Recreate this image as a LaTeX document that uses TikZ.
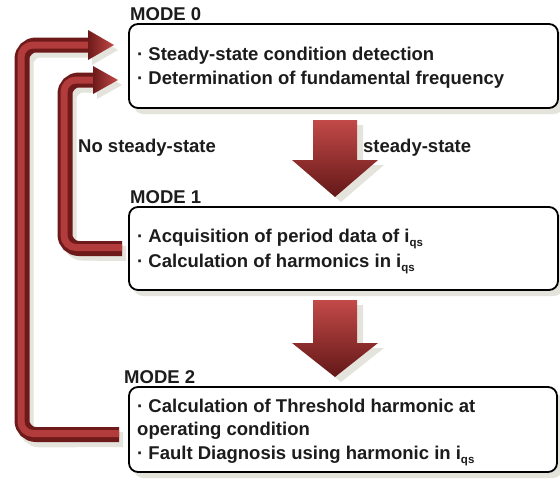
\documentclass[tikz,border=0pt]{standalone}
\usepackage{fontspec}
\setmainfont{Liberation Sans}
\usetikzlibrary{shadows,calc}
\definecolor{darkred}{HTML}{6E1A1A}
\definecolor{midred}{HTML}{B23B3B}
\definecolor{litred}{HTML}{C24A48}
\definecolor{shd}{HTML}{E4E4DC}
\definecolor{ink}{HTML}{1C1C1C}
\newcommand{\bul}{·\ }
\newcommand{\iqs}{i\raisebox{-0.45ex}{\fontsize{11.5}{11.5}\selectfont qs}}
\begin{document}
\begin{tikzpicture}[x=1pt,y=-1pt,
  box/.style={draw=black, line width=1.8pt, rounded corners=9pt, fill=white,
    drop shadow={shadow xshift=5pt, shadow yshift=-6pt, fill=shd, opacity=1}},
  txt/.style={anchor=base west, inner sep=0pt, text=ink,
    font=\bfseries\fontsize{18.5}{21}\selectfont},
  band/.style={line width=15pt, rounded corners=14pt, draw=darkred},
  bandin/.style={line width=7pt, rounded corners=12pt, draw=midred},
  bandshd/.style={line width=15pt, rounded corners=14pt, draw=shd}]
\useasboundingbox (0,0) rectangle (560,479);
\fill[white] (0,0) rectangle (560,479);

% boxes
\node[box, minimum width=429pt, minimum height=84pt] (box0) at (343.5,66) {};
\node[box, minimum width=429pt, minimum height=83pt] (box1) at (343.5,248.5) {};
\node[box, minimum width=428pt, minimum height=85pt] (box2) at (343,429.5) {};

% feedback connectors
\coordinate (e0) at (90,45);
\coordinate (e1) at (95,80);
\coordinate (s2) at ($(box2.west)+(-9,5)$);
\coordinate (s1) at ($(box1.west)+(-6,0)$);

% shadows of the feedback bands
\draw[bandshd] ($(s2)+(4,5)$) -- (26,440) -- (26,50) -- ($(e0)+(4,5)$);
\draw[bandshd] ($(s1)+(4,5)$) -- (69,253) -- (69,85) -- ($(e1)+(4,5)$);
\fill[shd] (92,35) -- (118,50) -- (92,65) -- cycle;
\fill[shd] (97,71) -- (122,85) -- (97,99) -- cycle;

\draw[band] (s2) -| (22,45) -- (e0);
\draw[bandin] ($(s2)+(0,-1)$) -| (21,45) -- (e0);
\shade[left color=darkred, right color=litred] (88,30) -- (114,45) -- (88,60) -- cycle;

\draw[band] (s1) -| (65,80) -- (e1);
\draw[bandin] ($(s1)+(0,-1)$) -| (64,80) -- (e1);
\shade[left color=darkred, right color=litred] (93,66) -- (118,80) -- (93,94) -- cycle;

% down arrows
\fill[shd] (319,125) -- (363,125) -- (363,165) -- (384,165) -- (341,202) -- (298,165) -- (319,165) -- cycle;
\shade[top color=litred, bottom color=darkred!90!black]
  (313,120) -- (357,120) -- (357,160) -- (378,160) -- (335,197) -- (292,160) -- (313,160) -- cycle;
\fill[shd] (319,305) -- (363,305) -- (363,348) -- (384,348) -- (341,382) -- (298,348) -- (319,348) -- cycle;
\shade[top color=litred, bottom color=darkred!90!black]
  (313,300) -- (357,300) -- (357,343) -- (378,343) -- (335,377) -- (292,343) -- (313,343) -- cycle;

% mode labels
\node[txt] (m0) at (130,20) {MODE 0};
\node[txt] (m1) at (130,203) {MODE 1};
\node[txt] (m2) at (124,383) {MODE 2};

% box texts
\node[txt] (t01) at (137,60) {\bul Steady-state condition detection};
\node[txt] (t02) at (137,84) {\bul Determination of fundamental frequency};
\node[txt] (t11) at (137,242) {\bul Acquisition of period data of \iqs};
\node[txt] (t12) at (137,267) {\bul Calculation of harmonics in \iqs};
\node[txt] (t21) at (137,412) {\bul Calculation of Threshold harmonic at};
\node[txt] (t22) at (137,435) {operating condition};
\node[txt] (t23) at (137,459) {\bul Fault Diagnosis using harmonic in \iqs};

% side labels
\node[txt] (lns) at (78,152) {No steady-state};
\node[txt] (lss) at (363,152) {steady-state};
\end{tikzpicture}
\end{document}
